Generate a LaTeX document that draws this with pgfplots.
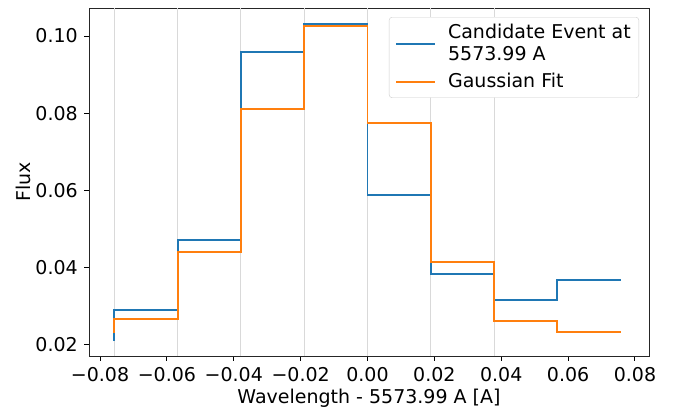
\documentclass[border=0pt]{standalone}
\usepackage{pgfplots}
\pgfplotsset{compat=1.18}
\usepackage{fontspec}
\setmainfont{DejaVu Sans}
\definecolor{mblue}{HTML}{1F77B4}
\definecolor{morange}{HTML}{FF7F0E}
\begin{document}
\fontsize{19bp}{22bp}\selectfont
\begin{tikzpicture}
\path[use as bounding box] (0,0) rectangle (686bp,408bp);
\begin{axis}[
  at={(89bp,52bp)}, anchor=south west,
  scale only axis, width=560bp, height=348bp,
  xmin=-0.0833, xmax=0.0842, ymin=0.01715, ymax=0.10725,
  scaled x ticks=false, scaled y ticks=false,
  xtick={-0.08,-0.06,-0.04,-0.02,0,0.02,0.04,0.06,0.08},
  xticklabels={−0.08,−0.06,−0.04,−0.02,0.00,0.02,0.04,0.06,0.08},
  ytick={0.02,0.04,0.06,0.08,0.10},
  yticklabels={0.02,0.04,0.06,0.08,0.10},
  tick align=outside, tick pos=left,
  major tick length=4.7bp,
  every tick/.style={black, line width=1bp},
  axis line style={line width=1bp, black!85},
  xlabel={Wavelength - 5573.99 A [A]},
  ylabel={Flux},
  xlabel style={yshift=10bp},
  ylabel style={yshift=-8bp},
  tick label style={font=\fontsize{19bp}{22bp}\selectfont},
  label style={font=\fontsize{19bp}{22bp}\selectfont},
  extra x ticks={-0.0757,-0.0568,-0.0379,-0.0189,0,0.0189,0.0379},
  extra x tick labels={},
  extra x tick style={grid=major, major grid style={black!15, line width=1bp}, major tick length=0pt},
  legend style={at={(1,1)}, anchor=north east, xshift=-10bp, yshift=-9bp,
    draw=black!20, rounded corners=3bp, font=\fontsize{19bp}{22bp}\selectfont,
    cells={align=left, anchor=west}, inner xsep=6bp, inner ysep=5bp, row sep=6bp, column sep=10bp},
  legend image code/.code={\draw[#1] (0bp,0bp) -- (39bp,0bp);},
]
\addplot[const plot mark right, mblue, line width=1.9bp] coordinates {
  (-0.0757,0.0210) (-0.0568,0.0291) (-0.0379,0.0472) (-0.0189,0.0958)
  (0.0000,0.1030) (0.0189,0.0588) (0.0379,0.0383) (0.0568,0.0316) (0.0757,0.0368)
};
\addlegendentry{Candidate Event at\\5573.99 A}
\addplot[const plot mark right, morange, line width=1.9bp] coordinates {
  (-0.0757,0.0232) (-0.0568,0.0267) (-0.0379,0.0441) (-0.0189,0.0811)
  (0.0000,0.1027) (0.0189,0.0775) (0.0379,0.0415) (0.0568,0.0262) (0.0757,0.0233)
};
\addlegendentry{Gaussian Fit}
\end{axis}
\end{tikzpicture}
\end{document}
